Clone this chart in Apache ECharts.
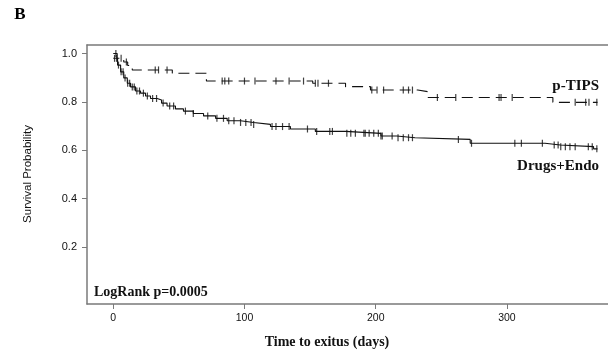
<!DOCTYPE html>
<html>
<head>
<meta charset="utf-8">
<script src="https://cdn.jsdelivr.net/npm/echarts@6/dist/echarts.min.js"></script>
<style>
html,body{margin:0;padding:0;background:#fff;}
#c{width:608px;height:356px;}
</style>
</head>
<body>
<div id="c"></div>
<script>
// p-TIPS Kaplan-Meier step data (days, survival)
const tipsTimes = [0, 3, 8, 11, 14.5, 45, 71, 152, 177, 196, 232, 240, 335, 369];
const tipsSurv  = [1.0, 0.98, 0.965, 0.95, 0.932, 0.918, 0.886, 0.877, 0.863, 0.849, 0.842, 0.818, 0.798, 0.798];
const tipsCensor = [2, 6, 10, 32, 34.5, 41, 83, 85, 88, 100, 108, 124, 134, 145, 154, 156, 164, 197, 201, 206, 221, 225, 228, 247, 261, 294, 295.5, 304, 352, 360, 362.5, 368.5];

// Drugs+Endo Kaplan-Meier step data
const endoTimes = [0, 3.3, 5.6, 8, 10.7, 13.2, 17, 20.8, 24.6, 28.4, 33.5, 36.8, 41, 47.4, 53.5, 61, 68.8, 78, 86.8, 97, 106.9, 119.8, 135, 154, 177, 204, 216, 230, 272, 329, 340.6, 366, 369];
const endoSurv  = [0.98, 0.952, 0.924, 0.899, 0.877, 0.862, 0.845, 0.836, 0.824, 0.814, 0.808, 0.795, 0.783, 0.771, 0.762, 0.752, 0.742, 0.732, 0.722, 0.715, 0.707, 0.698, 0.688, 0.678, 0.670, 0.659, 0.652, 0.645, 0.629, 0.622, 0.615, 0.606, 0.606];
const endoCensor = [1, 2.5, 4, 6, 7.5, 9, 11, 12.5, 14.5, 16, 18, 20, 23, 26, 30, 33, 38, 43, 46, 55, 61, 72, 79, 84, 88, 92, 97, 101, 105, 107, 121, 124, 129, 134, 148, 155, 165, 167, 178, 181, 184.5, 191, 192, 195, 198.5, 202, 204, 205, 212.5, 217, 221, 225, 228, 263, 273, 306, 311, 327, 336, 339, 341, 344.5, 348, 352, 362, 365, 368.5];

const xTicks = [0, 100, 200, 300];
const yTicks = [0.2, 0.4, 0.6, 0.8, 1.0];

function pairs(t, s) { return t.map((v, i) => [v, s[i]]); }
function survAt(t, s, x) {
  let v = s[0];
  for (let i = 0; i < t.length; i++) { if (t[i] <= x) v = s[i]; else break; }
  return v;
}
function censorPts(t, s, c) { return c.map(x => [x, survAt(t, s, x)]); }

const axisCol = '#7a7a7a';
const ink = '#111';
const chart = echarts.init(document.getElementById('c'), null, {renderer: 'canvas'});
chart.setOption({
  animation: false,
  backgroundColor: '#fff',
  grid: {left: 87, top: 45, right: 0, bottom: 52, containLabel: false},
  xAxis: [{
    type: 'value', min: -20, max: 377,
    axisLine: {show: true, onZero: false, lineStyle: {color: axisCol, width: 1.5}},
    axisTick: {show: true, customValues: xTicks, length: 5, lineStyle: {color: axisCol, width: 1}},
    axisLabel: {customValues: xTicks, fontSize: 10.5, color: '#111', margin: 9, fontFamily: 'Liberation Sans'},
    splitLine: {show: false}
  }, {
    type: 'value', min: -20, max: 377, position: 'top',
    axisLine: {show: true, onZero: false, lineStyle: {color: axisCol, width: 1.5}},
    axisTick: {show: false}, axisLabel: {show: false}, splitLine: {show: false}
  }],
  yAxis: {
    type: 'value', min: -0.035, max: 1.035,
    axisLine: {show: true, onZero: false, lineStyle: {color: axisCol, width: 1.5}},
    axisTick: {show: true, customValues: yTicks, length: 5, lineStyle: {color: axisCol, width: 1}},
    axisLabel: {customValues: yTicks, fontSize: 11, color: '#111', margin: 10, fontFamily: 'Liberation Sans',
      formatter: v => v.toFixed(1)},
    splitLine: {show: false}
  },
  series: [
    {type: 'line', step: 'end', data: pairs(tipsTimes, tipsSurv), showSymbol: false,
     lineStyle: {color: ink, width: 1.1, type: [11, 6]}},
    {type: 'line', step: 'end', data: pairs(endoTimes, endoSurv), showSymbol: false,
     lineStyle: {color: ink, width: 1.1}},
    {type: 'scatter', data: censorPts(tipsTimes, tipsSurv, tipsCensor), symbol: 'rect', symbolSize: [1.2, 7],
     itemStyle: {color: ink}},
    {type: 'scatter', data: censorPts(endoTimes, endoSurv, endoCensor), symbol: 'rect', symbolSize: [1.2, 7],
     itemStyle: {color: ink}}
  ],
  graphic: [
    {type: 'text', x: 20, y: 15, style: {text: 'B', font: 'bold 17px "Liberation Serif"', fill: '#000', align: 'center', verticalAlign: 'middle'}},
    {type: 'text', x: 28, y: 174, rotation: Math.PI / 2, style: {text: 'Survival Probability', font: '11.5px "Liberation Sans"', fill: '#111', align: 'center', verticalAlign: 'middle'}},
    {type: 'text', x: 599, y: 86, style: {text: 'p-TIPS', font: 'bold 15px "Liberation Serif"', fill: '#111', align: 'right', verticalAlign: 'middle'}},
    {type: 'text', x: 599, y: 166, style: {text: 'Drugs+Endo', font: 'bold 15px "Liberation Serif"', fill: '#111', align: 'right', verticalAlign: 'middle'}},
    {type: 'text', x: 94, y: 292, style: {text: 'LogRank p=0.0005', font: 'bold 14px "Liberation Serif"', fill: '#111', align: 'left', verticalAlign: 'middle'}},
    {type: 'text', x: 327, y: 342, style: {text: 'Time to exitus (days)', font: 'bold 14px "Liberation Serif"', fill: '#111', align: 'center', verticalAlign: 'middle'}}
  ]
});
</script>
</body>
</html>
